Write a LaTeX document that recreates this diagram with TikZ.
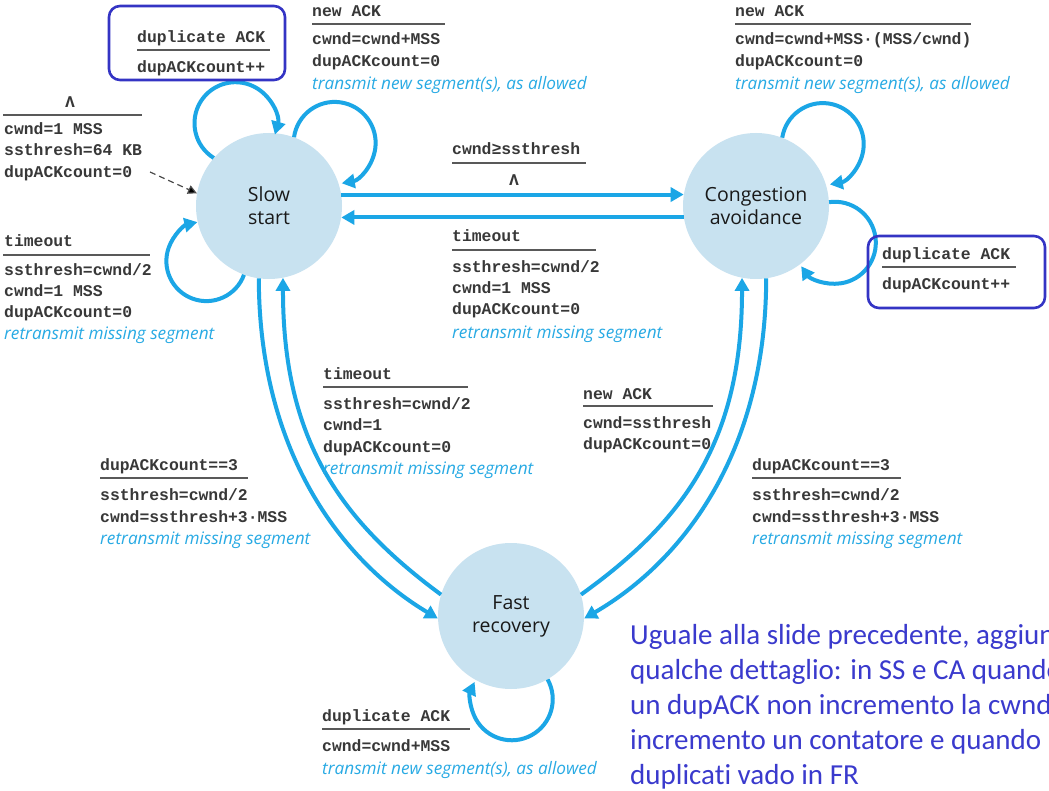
\documentclass[tikz,border=0pt]{standalone}
\usepackage{fontspec}
\setmainfont{Open Sans}
\newfontfamily\monof{Liberation Mono}
\newfontfamily\sansf{Open Sans}
\newfontfamily\calf[Ligatures={NoCommon}]{Carlito}
\usetikzlibrary{arrows.meta}
\definecolor{arrc}{RGB}{27,166,230}
\definecolor{txtc}{RGB}{40,170,228}
\definecolor{statefill}{RGB}{200,226,240}
\definecolor{boxc}{RGB}{52,52,196}
\definecolor{notec}{RGB}{58,58,205}
\tikzset{
  state/.style={circle, fill=statefill, minimum size=146pt, inner sep=0pt, align=center,
    font=\sansf\fontsize{19.5}{23}\selectfont, text=black!90},
  arr/.style={draw=arrc, line width=4pt, -{Triangle[length=13pt,width=14pt]}},
  mono/.style={anchor=base west, inner sep=0pt, font=\monof\bfseries\fontsize{16.4}{20}\selectfont, text=black!78},
  monoc/.style={mono, anchor=base},
  ital/.style={anchor=base west, inner sep=0pt, font=\sansf\itshape\fontsize{17.2}{20}\selectfont, text=txtc},
  rulel/.style={draw=black!65, line width=1.6pt},
  dupbox/.style={draw=boxc, line width=2.6pt, rounded corners=11pt},
  note/.style={anchor=base west, inner sep=0pt, font=\calf\fontsize{29}{35}\selectfont, text=notec},
  dash arrow/.style={draw=black!70, line width=1.2pt, dashed, dash pattern=on 6pt off 4pt,
    -{Triangle[length=9pt,width=9pt,fill=black]}}
}
\begin{document}
\begin{tikzpicture}[x=1pt,y=1pt]
\useasboundingbox (0,0) rectangle (1049,-791);
\clip (0,0) rectangle (1049,-791);
\fill[white] (0,0) rectangle (1049,-791);

% states
\node[state] (ss) at (269,-206) {Slow\\start};
\node[state] (ca) at (756,-206) {Congestion\\avoidance};
\node[state] (fr) at (511,-616) {Fast\\recovery};

% initial dashed arrow
\coordinate (dstart) at (150,-172);
\draw[dash arrow] (dstart) -- (ss.170);

% self loops
\draw[arr] (ss.139) arc[start angle=238, end angle=-16, radius=41];
\draw[arr] (ss.70) arc[start angle=172, end angle=-80, radius=41];
\draw[arr] (ss.250) arc[start angle=-20, end angle=-257, radius=40];
\draw[arr] (ca.69) arc[start angle=171, end angle=-80, radius=41];
\draw[arr] (ca.3) arc[start angle=98, end angle=-145, radius=41];
\draw[arr] (fr.-60) arc[start angle=29, end angle=-205, radius=41];

% transitions SS <-> CA
\draw[arr] (ss.9) -- (ca.171);
\draw[arr] (ca.189) -- (ss.351);

% SS <-> FR
\draw[arr] (ss.262) .. controls (259,-450) and (340,-560) .. (fr.182);
\draw[arr] (fr.163) .. controls (340,-520) and (283,-440) .. (ss.281);
% CA <-> FR
\draw[arr] (ca.278) .. controls (766,-450) and (685,-560) .. (fr.358);
\draw[arr] (fr.17) .. controls (685,-520) and (742,-440) .. (ca.259);

% SS duplicate ACK (boxed)
\draw[dupbox] (109,-6) rectangle (285,-80);
\node[mono] (a1) at (137,-43) {duplicate ACK};
\draw[rulel] (137,-50) -- (270,-50);
\node[mono] (a2) at (137,-73) {dupACKcount++};

% SS new ACK
\node[mono] (b1) at (312,-17) {new ACK};
\draw[rulel] (312,-24) -- (445,-24);
\node[mono] (b2) at (312,-45) {cwnd=cwnd+MSS};
\node[mono] (b3) at (312,-67) {dupACKcount=0};
\node[ital] (b4) at (312,-90) {transmit new segment(s), as allowed};

% initial
\node[monoc] (c1) at (70,-108) {Λ};
\draw[rulel] (3,-115) -- (142,-115);
\node[mono] (c2) at (4,-135) {cwnd=1 MSS};
\node[mono] (c3) at (4,-156) {ssthresh=64 KB};
\node[mono] (c4) at (4,-178) {dupACKcount=0};

% SS timeout
\node[mono] (d1) at (4,-247) {timeout};
\draw[rulel] (3,-255) -- (150,-255);
\node[mono] (d2) at (4,-276) {ssthresh=cwnd/2};
\node[mono] (d3) at (4,-297) {cwnd=1 MSS};
\node[mono] (d4) at (4,-318) {dupACKcount=0};
\node[ital] (d5) at (4,-340) {retransmit missing segment};

% cwnd >= ssthresh
\node[mono] (e1) at (452,-155) {cwnd≥ssthresh};
\draw[rulel] (452,-163) -- (586,-163);
\node[monoc] (e2) at (514,-186) {Λ};

% CA -> SS timeout
\node[mono] (f1) at (452,-242) {timeout};
\draw[rulel] (452,-250) -- (596,-250);
\node[mono] (f2) at (452,-273) {ssthresh=cwnd/2};
\node[mono] (f3) at (452,-294) {cwnd=1 MSS};
\node[mono] (f4) at (452,-315) {dupACKcount=0};
\node[ital] (f5) at (452,-338) {retransmit missing segment};

% CA new ACK
\node[mono] (g1) at (735,-17) {new ACK};
\draw[rulel] (735,-24) -- (971,-24);
\node[mono] (g2) at (735,-45) {cwnd=cwnd+MSS·(MSS/cwnd)};
\node[mono] (g3) at (735,-67) {dupACKcount=0};
\node[ital] (g4) at (735,-90) {transmit new segment(s), as allowed};

% CA duplicate ACK (boxed)
\draw[dupbox] (868,-236) rectangle (1045,-308);
\node[mono] (h1) at (882,-260) {duplicate ACK};
\draw[rulel] (882,-267) -- (1016,-267);
\node[mono] (h2) at (882,-290) {dupACKcount++};

% FR -> SS timeout
\node[mono] (i1) at (323,-379) {timeout};
\draw[rulel] (323,-387) -- (468,-387);
\node[mono] (i2) at (323,-409) {ssthresh=cwnd/2};
\node[mono] (i3) at (323,-430) {cwnd=1};
\node[mono] (i4) at (323,-452) {dupACKcount=0};
\node[ital] (i5) at (323,-474) {retransmit missing segment};

% SS -> FR dupACKcount==3
\node[mono] (j1) at (100,-470) {dupACKcount==3};
\draw[rulel] (100,-478) -- (248,-478);
\node[mono] (j2) at (100,-500) {ssthresh=cwnd/2};
\node[mono] (j3) at (100,-522) {cwnd=ssthresh+3·MSS};
\node[ital] (j4) at (100,-544) {retransmit missing segment};

% FR -> CA new ACK
\node[mono] (k1) at (583,-399) {new ACK};
\draw[rulel] (583,-406) -- (713,-406);
\node[mono] (k2) at (583,-428) {cwnd=ssthresh};
\node[mono] (k3) at (583,-449) {dupACKcount=0};

% CA -> FR dupACKcount==3
\node[mono] (m1) at (752,-470) {dupACKcount==3};
\draw[rulel] (752,-478) -- (901,-478);
\node[mono] (m2) at (752,-500) {ssthresh=cwnd/2};
\node[mono] (m3) at (752,-522) {cwnd=ssthresh+3·MSS};
\node[ital] (m4) at (752,-544) {retransmit missing segment};

% FR duplicate ACK
\node[mono] (n1) at (322,-721) {duplicate ACK};
\draw[rulel] (322,-729) -- (470,-729);
\node[mono] (n2) at (322,-751) {cwnd=cwnd+MSS};
\node[ital] (n3) at (322,-774) {transmit new segment(s), as allowed};

% note (cut off at the right edge, as in the reference)
\node[note] (t1) at (630,-644) {Uguale alla slide precedente, aggiungendo};
\node[note] (t2) at (630,-679) {qualche dettaglio: in SS e CA quando};
\node[note] (t3) at (630,-714) {un dupACK non incremento la cwnd};
\node[note] (t4) at (630,-749) {incremento un contatore e quando};
\node[note] (t5) at (630,-784) {duplicati vado in FR};
\end{tikzpicture}
\end{document}
